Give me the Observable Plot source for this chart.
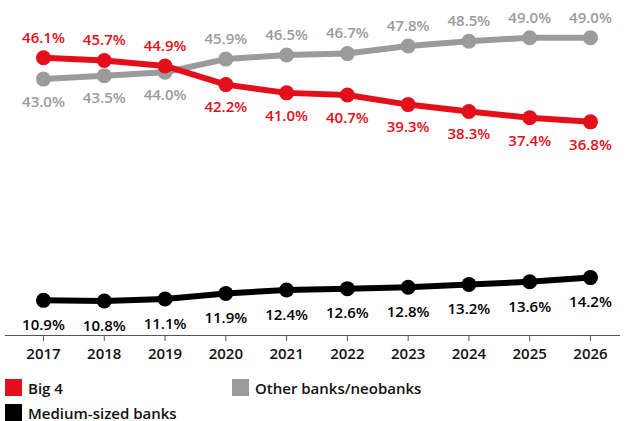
<!DOCTYPE html>
<html>
<head>
<meta charset="utf-8">
<script src="https://cdn.jsdelivr.net/npm/d3@7"></script>
<script src="https://cdn.jsdelivr.net/npm/@observablehq/plot@0.6"></script>
<style>
  body { margin: 0; background: #fff; font-family: "Open Sans", sans-serif; }
  #legend { display: grid; grid-template-columns: 227px 300px; margin-left: 5px; margin-top: 9px; row-gap: 8px; }
  .item { display: flex; align-items: center; font-size: 15px; font-weight: 600; color: #111; height: 17px; }
  .sw { width: 17px; height: 17px; margin-right: 6px; display: inline-block; }
</style>
</head>
<body>
<div id="chart"></div>
<div id="legend"></div>
<script>
const years = [2017, 2018, 2019, 2020, 2021, 2022, 2023, 2024, 2025, 2026];
const big4 = [46.1, 45.7, 44.9, 42.2, 41.0, 40.7, 39.3, 38.3, 37.4, 36.8];
const otherBanks = [43.0, 43.5, 44.0, 45.9, 46.5, 46.7, 47.8, 48.5, 49.0, 49.0];
const mediumBanks = [10.9, 10.8, 11.1, 11.9, 12.4, 12.6, 12.8, 13.2, 13.6, 14.2];
const seriesNames = ["Big 4", "Other banks/neobanks", "Medium-sized banks"];
const colors = { "Big 4": "#e3101b", "Other banks/neobanks": "#9b9b9b", "Medium-sized banks": "#000000" };

const rows = (name, vals) => years.map((y, i) => ({ year: y, value: vals[i], series: name }));
const big4Rows = rows("Big 4", big4);
const otherRows = rows("Other banks/neobanks", otherBanks);
const medRows = rows("Medium-sized banks", mediumBanks);

// label placement: series that is higher at a given year gets its label above
const big4Above = big4Rows.filter((d, i) => d.value > otherBanks[i]);
const big4Below = big4Rows.filter((d, i) => d.value <= otherBanks[i]);
const otherAbove = otherRows.filter((d, i) => d.value > big4[i]);
const otherBelow = otherRows.filter((d, i) => d.value <= big4[i]);

const fmt = d => d.value.toFixed(1) + "%";
const yMin = 5.8;

function series(data, color) {
  return [
    Plot.line(data, { x: "year", y: "value", stroke: color, strokeWidth: 6 }),
    Plot.dot(data, { x: "year", y: "value", fill: color, r: 7.5 })
  ];
}
const lbl = (data, color, dy) => Plot.text(data, {
  x: "year", y: "value", text: fmt, fill: color, dy, fontSize: 15, fontWeight: 600
});

const chart = Plot.plot({
  width: 626,
  height: 370,
  marginLeft: 5,
  marginRight: 6,
  marginTop: 20,
  marginBottom: 35,
  style: { fontFamily: "Open Sans, sans-serif", background: "#fff" },
  x: { domain: [2016.375, 2026.494], axis: null },
  y: { domain: [yMin, 51.5], axis: null },
  marks: [
    Plot.ruleY([yMin], { stroke: "#555", strokeWidth: 1.2 }),
    Plot.axisX({ ticks: years, tickFormat: d => String(d), tickSize: 6, tickPadding: 7,
      fontSize: 15, fontWeight: 600, stroke: "#555", fill: "#111", label: null }),
    ...series(otherRows, colors["Other banks/neobanks"]),
    ...series(big4Rows, colors["Big 4"]),
    ...series(medRows, colors["Medium-sized banks"]),
    lbl(big4Above, colors["Big 4"], -20),
    lbl(big4Below, colors["Big 4"], 23),
    lbl(otherAbove, colors["Other banks/neobanks"], -20),
    lbl(otherBelow, colors["Other banks/neobanks"], 23),
    lbl(medRows, colors["Medium-sized banks"], 25)
  ]
});
document.getElementById("chart").append(chart);

const legendOrder = ["Big 4", "Other banks/neobanks", "Medium-sized banks"];
const legend = document.getElementById("legend");
legendOrder.forEach(n => {
  const it = document.createElement("div");
  it.className = "item";
  const sw = document.createElement("span");
  sw.className = "sw";
  sw.style.background = colors[n];
  it.append(sw, document.createTextNode(n));
  legend.append(it);
});
</script>
</body>
</html>
